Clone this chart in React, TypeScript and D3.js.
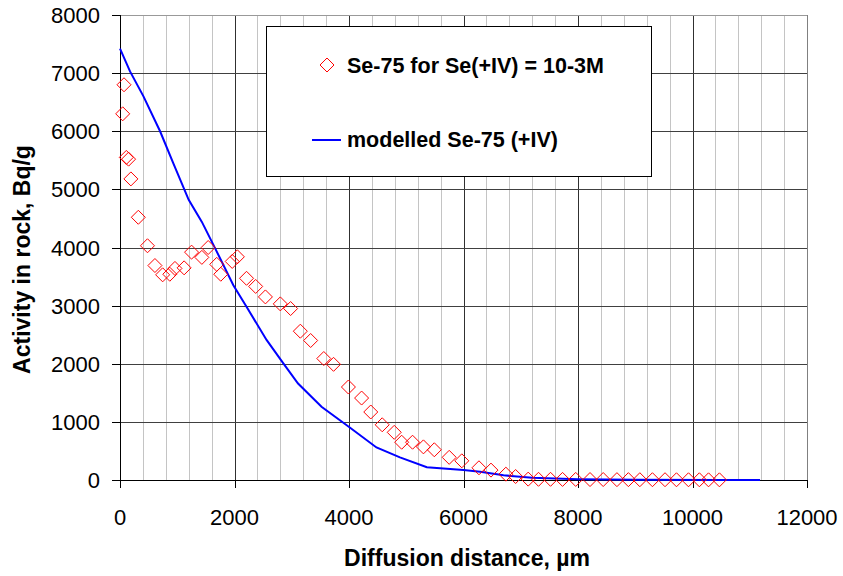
import React from "react";
import * as d3 from "d3";

const distance = [47, 70, 110, 150, 190, 320, 480, 610, 745, 870, 960, 1120, 1250, 1430, 1540, 1690, 1760, 1960, 2050, 2210, 2370, 2540, 2800, 2980, 3150, 3330, 3560, 3730, 3990, 4220, 4380, 4580, 4790, 4920, 5110, 5300, 5490, 5750, 5970, 6270, 6480, 6740, 6910, 7130, 7310, 7520, 7730, 7960, 8210, 8440, 8680, 8880, 9080, 9300, 9520, 9720, 9930, 10120, 10280, 10470];
const activity = [6300, 6800, 5550, 5520, 5180, 4520, 4030, 3690, 3530, 3540, 3640, 3650, 3920, 3830, 4000, 3710, 3540, 3760, 3840, 3470, 3330, 3150, 3030, 2950, 2560, 2400, 2090, 1990, 1600, 1410, 1170, 950, 820, 650, 650, 570, 520, 390, 330, 210, 170, 100, 60, 15, 12, 12, 10, 10, 8, 8, 6, 6, 5, 5, 5, 4, 4, 4, 3, 3];

const modelX = [0, 175, 410, 700, 930, 1200, 1430, 1660, 1980, 2210, 2560, 2850, 3110, 3520, 3990, 4480, 4890, 5360, 6000, 6290, 6700, 7200, 8000, 9000, 10500, 11180];
const modelY = [7420, 7030, 6600, 6000, 5450, 4820, 4440, 3990, 3350, 2980, 2410, 2010, 1660, 1260, 920, 560, 390, 220, 170, 140, 80, 40, 15, 5, 0, 0];

const xTicks = [0, 2000, 4000, 6000, 8000, 10000, 12000];
const yTicks = [0, 1000, 2000, 3000, 4000, 5000, 6000, 7000, 8000];
const xMinor = d3.range(400, 12000, 400).filter((v) => v % 2000 !== 0);

const legendLabels = ["Se-75 for Se(+IV) = 10-3M", "modelled Se-75 (+IV)"];
const xTitle = "Diffusion distance, µm";
const yTitle = "Activity in rock, Bq/g";

const W = 843;
const H = 576;
const left = 120;
const right = 807;
const top = 15;
const bottom = 480;

export default function App() {
  const x = d3.scaleLinear().domain([0, 12000]).range([left, right]);
  const y = d3.scaleLinear().domain([0, 8000]).range([bottom, top]);
  const line = d3
    .line<number>()
    .x((_, i) => x(modelX[i]))
    .y((d) => y(d));
  const r = (v: number) => Math.round(v) + 0.5;
  const font = "'Liberation Sans', Arial, sans-serif";
  const diamond = (cx: number, cy: number, s: number) =>
    `M${cx},${cy - s}L${cx + s},${cy}L${cx},${cy + s}L${cx - s},${cy}Z`;

  return (
    <svg
      width={W}
      height={H}
      style={{ position: "absolute", left: 0, top: 0, background: "#fff" }}
      fontFamily={font}
    >
      <rect x={0} y={0} width={W} height={H} fill="#fff" />
      {xMinor.map((v) => (
        <line key={"mv" + v} x1={r(x(v))} x2={r(x(v))} y1={top} y2={bottom} stroke="#c4c4c4" strokeWidth={1} />
      ))}
      {xTicks.slice(1, -1).map((v) => (
        <line key={"Mv" + v} x1={r(x(v))} x2={r(x(v))} y1={top} y2={bottom} stroke="#303030" strokeWidth={1} />
      ))}
      {yTicks.slice(1, -1).map((v) => (
        <line key={"h" + v} x1={left} x2={right} y1={r(y(v))} y2={r(y(v))} stroke="#404040" strokeWidth={1} />
      ))}
      <line x1={left} x2={right} y1={r(y(8000))} y2={r(y(8000))} stroke="#999" />
      <line x1={r(x(12000))} x2={r(x(12000))} y1={top} y2={bottom} stroke="#808080" />
      <line x1={r(x(0))} x2={r(x(0))} y1={top} y2={bottom + 8} stroke="#000" />
      <line x1={left - 8} x2={right} y1={r(y(0))} y2={r(y(0))} stroke="#000" />
      {yTicks.map((v) => (
        <g key={"yt" + v}>
          <line x1={left - 8} x2={left} y1={r(y(v))} y2={r(y(v))} stroke="#000" />
          <text x={100} y={y(v) + 8} textAnchor="end" fontSize={22} fill="#000">
            {v}
          </text>
        </g>
      ))}
      {xTicks.map((v) => (
        <g key={"xt" + v}>
          <line x1={r(x(v))} x2={r(x(v))} y1={bottom} y2={bottom + 8} stroke="#000" />
          <text x={x(v)} y={525} textAnchor="middle" fontSize={22} fill="#000">
            {v}
          </text>
        </g>
      ))}
      <rect x={266.5} y={26.5} width={385} height={150} fill="#fff" stroke="#000" strokeWidth={1} />
      <path d={line(modelY) || ""} fill="none" stroke="#0000ff" strokeWidth={2} />
      {distance.map((d, i) => (
        <path key={"p" + i} d={diamond(x(d), y(activity[i]), 7)} fill="none" stroke="#ff0000" strokeWidth={1} />
      ))}
      <path d={diamond(327, 65, 7)} fill="none" stroke="#ff0000" strokeWidth={1} />
      <text x={347} y={72.5} fontSize={21.5} fontWeight="bold" fill="#000">
        {legendLabels[0]}
      </text>
      <line x1={312} x2={341} y1={140} y2={140} stroke="#0000ff" strokeWidth={2} />
      <text x={347} y={147} fontSize={21.5} fontWeight="bold" fill="#000">
        {legendLabels[1]}
      </text>
      <text x={467} y={566} textAnchor="middle" fontSize={23} fontWeight="bold" fill="#000">
        {xTitle}
      </text>
      <text
        transform={`translate(30, ${(top + bottom) / 2 + 12}) rotate(-90)`}
        textAnchor="middle"
        fontSize={23}
        fontWeight="bold"
        fill="#000"
      >
        {yTitle}
      </text>
    </svg>
  );
}
